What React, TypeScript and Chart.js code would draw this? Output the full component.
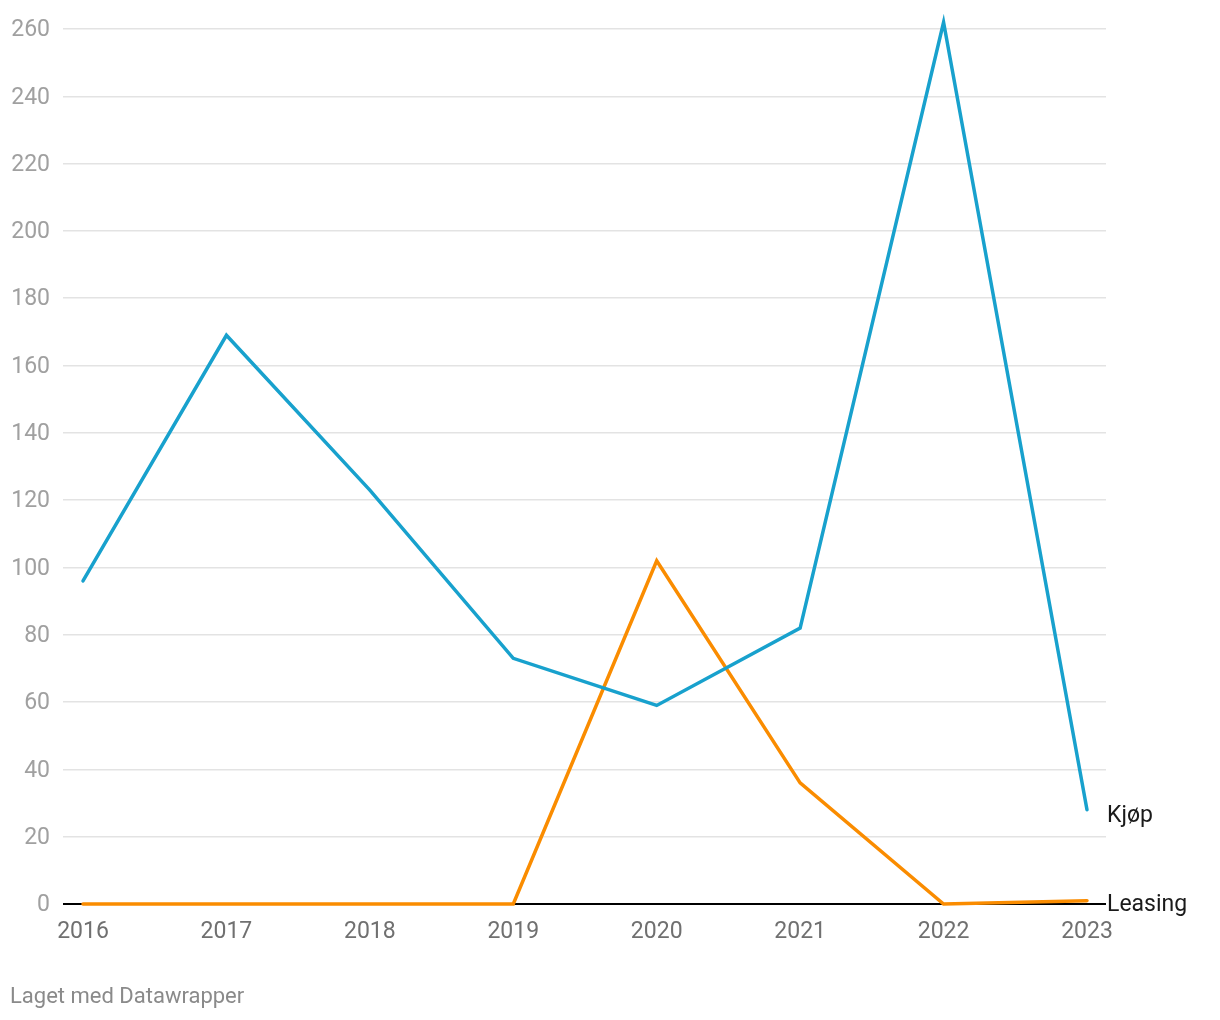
import React, { useEffect, useRef } from "react";
import { Chart, registerables } from "chart.js";

Chart.register(...registerables);

const years = [2016, 2017, 2018, 2019, 2020, 2021, 2022, 2023];
const kjop = [96, 169, 123, 73, 59, 82, 262, 28];
const leasing = [0, 0, 0, 0, 102, 36, 0, 1];
const seriesNames = ["Kjøp", "Leasing"];
const yTicks = [0, 20, 40, 60, 80, 100, 120, 140, 160, 180, 200, 220, 240, 260];
const footer = "Laget med Datawrapper";

const BLUE = "#18a1cd";
const ORANGE = "#fa8c00";
const FONT = "Roboto";

const endLabels = {
  id: "endLabels",
  afterDatasetsDraw(chart: any) {
    const { ctx, chartArea } = chart;
    const y = chart.scales.y;
    ctx.save();
    ctx.font = `23px ${FONT}`;
    ctx.fillStyle = "#1a1a1a";
    ctx.textAlign = "left";
    ctx.textBaseline = "middle";
    const k = kjop[kjop.length - 1];
    const l = leasing[leasing.length - 1];
    ctx.fillText(seriesNames[0], chartArea.right + 1, y.getPixelForValue(k) + 6);
    ctx.fillText(seriesNames[1], chartArea.right + 1, y.getPixelForValue(l) + 5);
    ctx.restore();
  },
};

export default function App() {
  const ref = useRef<HTMLCanvasElement>(null);
  useEffect(() => {
    if (!ref.current) return;
    const chart = new Chart(ref.current, {
      type: "line",
      data: {
        datasets: [
          {
            label: seriesNames[0],
            data: years.map((x, i) => ({ x, y: kjop[i] })),
            borderColor: BLUE,
            borderWidth: 3.5,
            pointRadius: 0,
            tension: 0,
            clip: false as any,
            borderCapStyle: "round",
          },
          {
            label: seriesNames[1],
            data: years.map((x, i) => ({ x, y: leasing[i] })),
            borderColor: ORANGE,
            borderWidth: 3.5,
            pointRadius: 0,
            tension: 0,
            clip: false as any,
            borderCapStyle: "round",
          },
        ],
      },
      options: {
        responsive: false,
        animation: false,
        layout: { padding: { top: 29, right: 114, left: 0, bottom: 0 } },
        plugins: { legend: { display: false }, tooltip: { enabled: false } },
        scales: {
          x: {
            type: "linear",
            min: 2015.8606,
            max: 2023.1325,
            grid: { display: false, drawTicks: false },
            border: { display: false },
            afterBuildTicks: (s: any) => {
              s.ticks = years.map((v) => ({ value: v }));
            },
            afterFit: (s: any) => {
              s.height = 116;
            },
            ticks: {
              color: "#707070",
              font: { family: FONT, size: 23 },
              padding: 14,
              maxRotation: 0,
              autoSkip: false,
              callback: (v: any) => String(v),
            },
          },
          y: {
            min: 0,
            max: 260,
            grid: {
              drawTicks: false,
              color: (c: any) => (c.tick && c.tick.value === 0 ? "#000000" : "#e3e3e3"),
              lineWidth: (c: any) => (c.tick && c.tick.value === 0 ? 2 : 1.5),
            },
            border: { display: false },
            afterBuildTicks: (s: any) => {
              s.ticks = yTicks.map((v) => ({ value: v }));
            },
            afterFit: (s: any) => {
              s.width = 63;
            },
            ticks: {
              color: "#a0a0a0",
              font: { family: FONT, size: 23 },
              padding: 13,
              labelOffset: 1.5,
              callback: (v: any) => String(v),
            },
          },
        },
      },
      plugins: [endLabels],
    });
    return () => chart.destroy();
  }, []);
  return (
    <div style={{ position: "absolute", left: 0, top: 0, width: 1220, height: 1020, background: "#fff" }}>
      <canvas ref={ref} width={1220} height={1020} style={{ position: "absolute", left: 0, top: 0 }} />
      <div
        style={{
          position: "absolute",
          left: 10,
          top: 982,
          fontFamily: FONT,
          fontSize: 22,
          color: "#8a8a8a",
          lineHeight: "28px",
        }}
      >
        {footer}
      </div>
    </div>
  );
}
